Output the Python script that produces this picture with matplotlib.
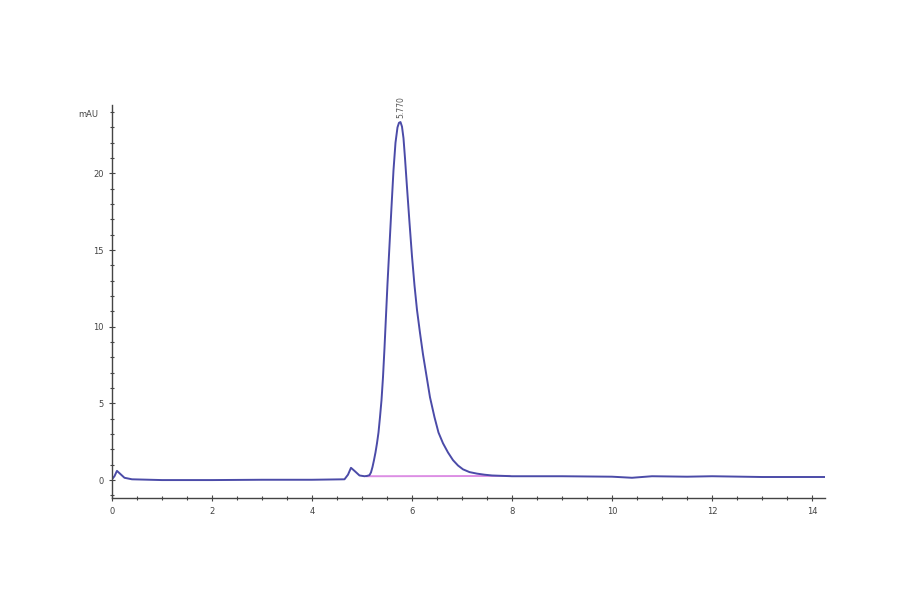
import matplotlib
matplotlib.use('Agg')
from matplotlib import pyplot as plt
from matplotlib.ticker import MultipleLocator

# Chromatogram trace (retention time in min, signal in mAU)
time = [0.00, 0.05, 0.10, 0.15, 0.25, 0.40, 1.00, 2.00, 3.00, 4.00,
        4.65, 4.72, 4.78, 4.85, 4.95, 5.05, 5.10, 5.15, 5.18, 5.21,
        5.24, 5.27, 5.30, 5.33, 5.36, 5.39, 5.42, 5.45, 5.48, 5.51,
        5.55, 5.59, 5.63, 5.67, 5.71, 5.74, 5.77, 5.80, 5.83, 5.86,
        5.90, 5.95, 6.00, 6.05, 6.10, 6.16, 6.22, 6.28, 6.36, 6.45,
        6.53, 6.62, 6.72, 6.82, 6.92, 7.02, 7.15, 7.30, 7.45, 7.60,
        8.00, 9.00, 10.00, 10.40, 10.80, 11.50, 12.00, 13.00, 14.26]
signal = [0.05, 0.25, 0.60, 0.45, 0.15, 0.05, 0.00, 0.00, 0.02, 0.02,
          0.05, 0.35, 0.80, 0.60, 0.30, 0.25, 0.27, 0.32, 0.50, 0.85,
          1.30, 1.80, 2.40, 3.10, 4.10, 5.20, 6.70, 8.60, 10.70, 12.80,
          15.30, 17.80, 20.20, 22.00, 23.00, 23.30, 23.35, 23.05, 22.30, 21.00,
          19.10, 16.80, 14.60, 12.70, 11.10, 9.60, 8.20, 7.00, 5.40, 4.10,
          3.10, 2.40, 1.80, 1.30, 0.95, 0.70, 0.52, 0.42, 0.35, 0.30,
          0.25, 0.25, 0.22, 0.15, 0.25, 0.22, 0.25, 0.20, 0.20]

# Integration baseline under the main peak
base_time = [5.10, 7.95]
base_signal = [0.25, 0.27]

peak_time = 5.77
peak_label = '5.770'

x_ticks = [0, 2, 4, 6, 8, 10, 12, 14]
y_ticks = [0, 5, 10, 15, 20]

fig = plt.figure(figsize=(9, 5.94), dpi=100)
ax = fig.add_axes([0.1244, 0.1616, 0.7923, 0.6616])

ax.plot(base_time, base_signal, color='#dc8ee4', lw=1.4, zorder=1)
ax.plot(time, signal, color='#4b4ba8', lw=1.4, zorder=2)

ax.text(peak_time, 23.6, peak_label, rotation=90, fontsize=5.5,
        color='#555555', ha='center', va='bottom')

ax.set_xlim(0, 14.26)
ax.set_ylim(-1.17, 24.46)
ax.set_xticks(x_ticks)
ax.set_yticks(y_ticks)
ax.xaxis.set_minor_locator(MultipleLocator(0.5))
ax.yaxis.set_minor_locator(MultipleLocator(1))
ax.tick_params(which='both', direction='inout', colors='#444444',
               labelsize=6, width=0.8)
ax.tick_params(which='major', length=5)
ax.tick_params(which='minor', length=3)
ax.tick_params(axis='x', pad=4)

for side in ['top', 'right']:
    ax.spines[side].set_visible(False)
for side in ['left', 'bottom']:
    ax.spines[side].set_color('#444444')
    ax.spines[side].set_linewidth(1.0)

fig.text(0.087, 0.808, 'mAU', fontsize=6, color='#444444', ha='left', va='center')

fig.savefig('out.png', dpi=100)
